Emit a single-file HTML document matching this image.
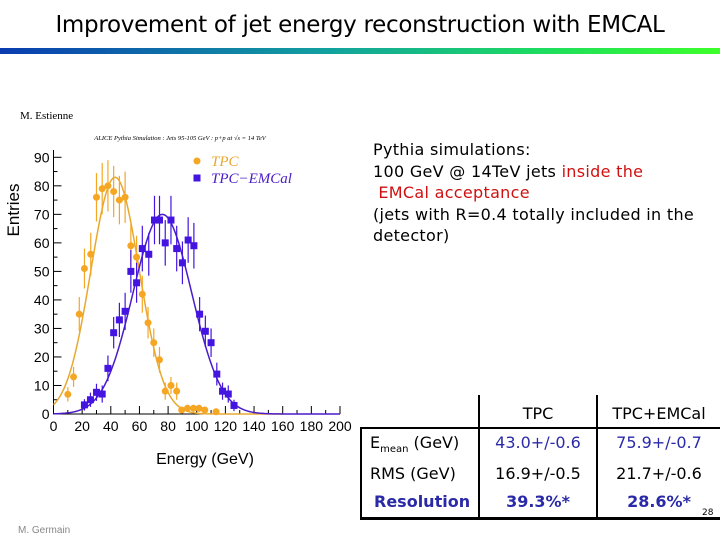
<!DOCTYPE html>
<html><head><meta charset="utf-8"><style>
body{margin:0;width:720px;height:540px;background:#fff;position:relative;overflow:hidden;font-family:"Liberation Sans",sans-serif}
.a{position:absolute;white-space:nowrap}
td{padding:0}
</style></head><body>
<div class="a" style="left:0;width:720px;top:12px;text-align:center;font-size:23px;color:#000;font-family:'DejaVu Sans',sans-serif;font-weight:normal;letter-spacing:-0.3px">Improvement of jet energy reconstruction with EMCAL</div>
<div class="a" style="left:0;top:48px;width:720px;height:6px;background:linear-gradient(90deg,#0a3cb0,#12a0a0 45%,#1ddc60 75%,#3dff2a)"></div>
<div class="a" style="left:20px;top:110px;font-size:11px;font-family:'Liberation Serif',serif">M. Estienne</div>
<div class="a" style="left:18px;top:525px;font-size:10px;color:#888">M. Germain</div>
<div class="a" style="left:373px;top:139px;font-size:16px;line-height:21.5px;font-family:'DejaVu Sans',sans-serif;letter-spacing:0.3px">Pythia simulations:<br>100 GeV @ 14TeV jets <span style="color:#d01010">inside the<br>&nbsp;EMCal acceptance</span><br>(jets with R=0.4 totally included in the<br>detector)</div>

<svg class="a" style="left:0;top:130px" width="360" height="340" id="chart"></svg>

<div class="a" style="left:360px;top:395px;width:360px;height:125px;font-family:'DejaVu Sans',sans-serif;font-size:16px">
 <div class="a" style="left:118px;top:0;width:2px;height:125px;background:#000"></div>
 <div class="a" style="left:236px;top:0;width:2px;height:125px;background:#000"></div>
 <div class="a" style="left:0;top:33px;width:2px;height:92px;background:#000"></div>
 <div class="a" style="left:0;top:32px;width:360px;height:2px;background:#000"></div>
 <div class="a" style="left:0;top:122px;width:360px;height:3px;background:#000"></div>
 <div class="a" style="left:120px;width:116px;top:9px;text-align:center">TPC</div>
 <div class="a" style="left:238px;width:122px;top:9px;text-align:center">TPC+EMCal</div>
 <div class="a" style="left:10px;top:38px">E<sub style="font-size:10px">mean</sub> (GeV)</div>
 <div class="a" style="left:120px;width:116px;top:38px;text-align:center;color:#2a2aa8">43.0+/-0.6</div>
 <div class="a" style="left:238px;width:122px;top:38px;text-align:center;color:#2a2aa8">75.9+/-0.7</div>
 <div class="a" style="left:10px;top:69px">RMS (GeV)</div>
 <div class="a" style="left:120px;width:116px;top:69px;text-align:center">16.9+/-0.5</div>
 <div class="a" style="left:238px;width:122px;top:69px;text-align:center">21.7+/-0.6</div>
 <div class="a" style="left:14px;top:97px;color:#2a2aa8;font-weight:bold">Resolution</div>
 <div class="a" style="left:120px;width:116px;top:97px;text-align:center;color:#2a2aa8;font-weight:bold">39.3%*</div>
 <div class="a" style="left:238px;width:122px;top:97px;text-align:center;color:#2a2aa8;font-weight:bold">28.6%*</div>
 <div class="a" style="left:342px;top:113px;font-size:9px">28</div>
</div>

<script>
const tpcX=[10,14,18,21.6,26,30,34,38,42,46,50,54,58,62,66,70,74,78,82,86,89.5,93.5,97.7,101.6,105.6,113.5];
const tpcY=[6.9,13,35,51,56,76,79,80,78,75,76,59,55,42,32,25,19,8,10,8,1.4,2,2,2,1.4,0.8];
const tpcErr=[2.5,3.5,6,7,7.5,8.5,9,9,9,8.5,9,7.5,7.5,6.5,5.5,5,4.5,3,3,3,1,1.2,1.2,1.2,1,0.8];
const emcX=[21.6,25.8,30,34,38,42,46,50,54,58,62,66.5,70.5,74,78,82,86,90,94,98,102,106,110,114,118,122,126];
const emcY=[3.2,5,7.6,7,16,28.5,33,36,50,46,58,56,68,68,60,68,58,53,61,59,35,29,25,14,8,7,3];
const emcErr=[2,2.5,3,3,4.5,5.5,6,6.5,7.5,7,8,7.5,8.5,8.5,8,8.5,8,7.5,8,8,6,5.5,5,4,3,3,2];
const tpcFit=[83,43,16.9];
const emcFit=[70,76,20.5];
const xTicks=[0,20,40,60,80,100,120,140,160,180,200];
const yTicks=[0,10,20,30,40,50,60,70,80,90];

const svg=document.getElementById('chart');
const NS='http://www.w3.org/2000/svg';
const X0=53.5,X1=340,Y0=284,Y1=27.3;
const sx=v=>X0+(X1-X0)*v/200, sy=v=>Y0-(Y0-Y1)*v/90;
function mk(t,a,p){const e=document.createElementNS(NS,t);for(const k in a)e.setAttribute(k,a[k]);(p||svg).appendChild(e);return e;}
let t=mk('text',{x:180,y:10,'font-size':6.5,'font-style':'italic','font-family':'Liberation Serif','text-anchor':'middle'});

t.textContent='ALICE Pythia Simulation : Jets 95-105 GeV : p+p at  √s = 14 TeV';
let ax=mk('path',{d:`M${X0} 20V${Y0}H${X1}`,stroke:'#000',fill:'none','stroke-width':1});

yTicks.forEach(v=>{
 mk('line',{x1:X0,x2:X0+8,y1:sy(v),y2:sy(v),stroke:'#000'});
 if(v<90)mk('line',{x1:X0,x2:X0+4,y1:sy(v+5),y2:sy(v+5),stroke:'#000'});
 const l=mk('text',{x:X0-4,y:sy(v)+5,'font-size':14,'text-anchor':'end'});
 l.textContent=v;
});
xTicks.forEach(v=>{
 mk('line',{x1:sx(v),x2:sx(v),y1:Y0,y2:Y0-8,stroke:'#000'});
 if(v<200)mk('line',{x1:sx(v+10),x2:sx(v+10),y1:Y0,y2:Y0-4,stroke:'#000'});
 const l=mk('text',{x:sx(v),y:Y0+17,'font-size':14,'text-anchor':'middle'});
 l.textContent=v;
});
let xt=mk('text',{x:205,y:334,'font-size':16,'text-anchor':'middle'});
xt.textContent='Energy (GeV)';
let yt=mk('text',{x:0,y:0,'font-size':17,'text-anchor':'middle',transform:'translate(19,80) rotate(-90)'});
yt.textContent='Entries';
function fit(p,col,name,xmax){
 let d='';for(let x=0;x<=xmax;x+=1){const y=p[0]*Math.exp(-Math.pow(x-p[1],2)/(2*p[2]*p[2]));d+=(x?'L':'M')+sx(x)+' '+sy(y);}
 const e=mk('path',{d,stroke:col,fill:'none','stroke-width':1.5});
 
}
fit(tpcFit,'#e8a830','tpc-fit-curve',160);
fit(emcFit,'#4a1cc8','tpc-emcal-fit-curve',200);
function pts(xs,ys,es,col,sq,name){
 xs.forEach((x,i)=>{
  mk('line',{x1:sx(x),x2:sx(x),y1:sy(ys[i]-es[i]),y2:sy(ys[i]+es[i]),stroke:col,'stroke-width':1.2});
  const e=sq?mk('rect',{x:sx(x)-3.5,y:sy(ys[i])-3.5,width:7,height:7,fill:col}):mk('circle',{cx:sx(x),cy:sy(ys[i]),r:3.5,fill:col});
  
 });
}
pts(tpcX,tpcY,tpcErr,'#f5a623',false,'tpc-point');
pts(emcX,emcY,emcErr,'#4414e0',true,'tpc-emcal-point');
let c=mk('circle',{cx:197,cy:31,r:3.5,fill:'#f5a623'});
let l1=mk('text',{x:211,y:36,'font-size':15,'font-style':'italic','font-family':'Liberation Serif',fill:'#e8a830'});
l1.textContent='TPC';
let r=mk('rect',{x:193.5,y:44.5,width:7,height:7,fill:'#4414e0'});
let l2=mk('text',{x:211,y:53,'font-size':15,'font-style':'italic','font-family':'Liberation Serif',fill:'#4a1cc8'});
l2.textContent='TPC−EMCal';
</script>
</body></html>
